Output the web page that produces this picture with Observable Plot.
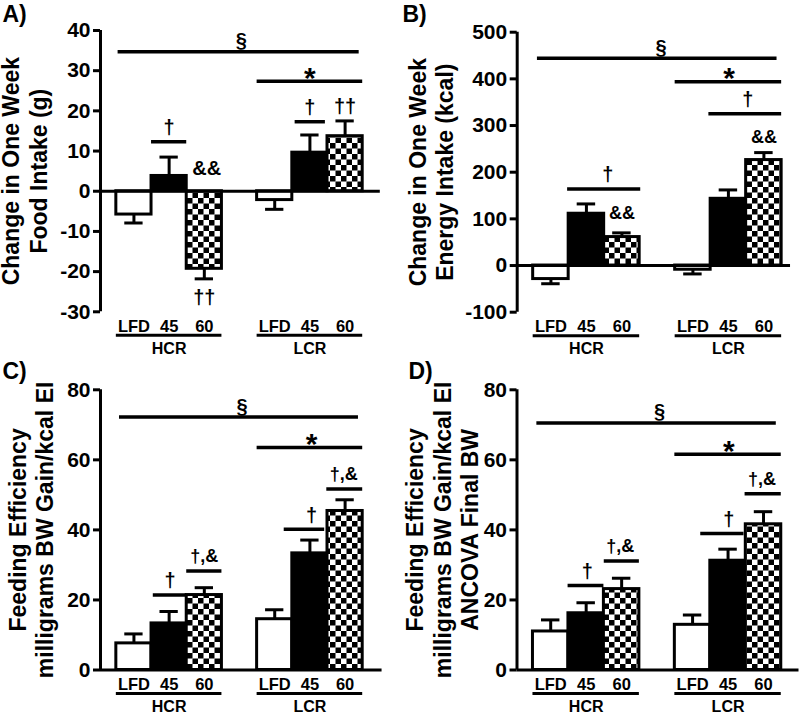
<!DOCTYPE html>
<html>
<head>
<meta charset="utf-8">
<script src="https://cdn.jsdelivr.net/npm/d3@7"></script>
<script src="https://cdn.jsdelivr.net/npm/@observablehq/plot@0.6"></script>
<style>
  html, body { margin: 0; padding: 0; background: white; }
  #grid { display: grid; grid-template-columns: 400px 400px; width: 800px; }
  #grid svg { display: block; }
</style>
</head>
<body>
<div id="grid"></div>
<script>
// ---------- data ----------
const groups = ["HCR", "LCR"];
const diets = ["LFD", "45", "60"];

// A) Change in one week food intake (g): mean and SEM, order HCR LFD/45/60, LCR LFD/45/60
const foodMean = [-5.8, 3.8, -19.3, -2.2, 9.6, 13.7];
const foodSem  = [2.1, 4.7, 2.5, 2.3, 4.4, 3.8];
// B) Change in one week energy intake (kcal)
const energyMean = [-29, 111, 61, -9, 143, 226];
const energySem  = [10, 21, 9, 9, 19, 16];
// C) Feeding efficiency (mg BW gain / kcal EI)
const feMean = [7.6, 13.3, 21.4, 14.5, 33.3, 45.4];
const feSem  = [2.7, 3.4, 2.1, 2.7, 3.8, 3.2];
// D) Feeding efficiency, ANCOVA final BW
const feAncMean = [11.0, 16.2, 23.1, 12.9, 31.2, 41.6];
const feAncSem  = [3.3, 3.0, 3.1, 2.8, 3.3, 3.6];

// tick labels
const ticksA = [-30, -20, -10, 0, 10, 20, 30, 40];
const ticksB = [-100, 0, 100, 200, 300, 400, 500];
const ticksFE = [0, 20, 40, 60, 80];

// significance bars: x1/x2/lx in bar-slot units (HCR slots 0..2, LCR slots 4..6)
const sigA = [
  {x1: -0.45, x2: 6.4, y: 34.7, label: "§", lx: 3.05},
  {x1: 3.5, x2: 6.5, y: 27.4, label: "*", lx: 5.0},
  {x1: 0.5, x2: 1.5, y: 12.3, label: "†", lx: 1.0},
  {x1: 4.58, x2: 5.44, y: 17.3, label: "†", lx: 5.0}
];
const markA = [
  {x: 6, y: 21, label: "††"},
  {x: 2.07, y: 5.7, label: "&&"},
  {x: 2, y: -26.4, label: "††"}
];
const sigB = [
  {x1: -0.38, x2: 6.37, y: 444, label: "§", lx: 3.1},
  {x1: 3.5, x2: 6.5, y: 394, label: "*", lx: 5.02},
  {x1: 4.45, x2: 6.5, y: 325, label: "†", lx: 5.55},
  {x1: 0.47, x2: 2.53, y: 164, label: "†", lx: 1.6}
];
const markB = [
  {x: 6, y: 275, label: "&&"},
  {x: 2, y: 111, label: "&&"}
];
const sigC = [
  {x1: -0.41, x2: 6.38, y: 72.2, label: "§", lx: 3.07},
  {x1: 3.5, x2: 6.5, y: 63.5, label: "*", lx: 5.05},
  {x1: 0.55, x2: 1.5, y: 21.4, label: "†", lx: 1.03},
  {x1: 1.5, x2: 2.5, y: 28.3, label: "†,&", lx: 2.0},
  {x1: 4.27, x2: 5.42, y: 40.2, label: "†", lx: 5.05},
  {x1: 5.48, x2: 6.5, y: 51.7, label: "†,&", lx: 5.96}
];
const markC = [];
const sigD = [
  {x1: -0.39, x2: 6.36, y: 70.5, label: "§", lx: 3.07},
  {x1: 3.5, x2: 6.5, y: 61.6, label: "*", lx: 5.02},
  {x1: 0.49, x2: 1.5, y: 24.1, label: "†", lx: 1.03},
  {x1: 1.51, x2: 2.5, y: 31.1, label: "†,&", lx: 1.96},
  {x1: 4.23, x2: 5.45, y: 39.0, label: "†", lx: 5.02},
  {x1: 5.48, x2: 6.5, y: 50.3, label: "†,&", lx: 5.96}
];
const markD = [];

// ---------- drawing ----------
const FONT = "'Liberation Sans', Arial, Helvetica, sans-serif";
const labelStyle = {
  "§": {size: 20, off: 11},
  "*": {size: 30, off: 3},
  "†": {size: 20, off: 14},
  "†,&": {size: 18, off: 15}
};

function panel(cfg) {
  const rows = [];
  groups.forEach((g, gi) => diets.forEach((d, di) => {
    const i = gi * 3 + di;
    const m = cfg.mean[i];
    rows.push({group: g, diet: d, slot: gi * 4 + di, mean: m, err: m + (m < 0 ? -1 : 1) * cfg.sem[i]});
  }));
  const [ymin, ymax] = cfg.yDomain;
  const xmin = -0.95, xmax = 7.0;
  const pid = "chk" + cfg.letter;
  const fills = {LFD: "white", "45": "black", "60": `url(#${pid})`};
  const groupSpans = groups.map((g, gi) => ({group: g, x1: gi * 4 - 0.5, x2: gi * 4 + 2.5, x: gi * 4 + 1}));

  const svg = Plot.plot({
    width: 400,
    height: cfg.height,
    marginLeft: cfg.ml,
    marginRight: cfg.mr,
    marginTop: cfg.mt,
    marginBottom: cfg.mb,
    x: {domain: [xmin, xmax], axis: null},
    y: {domain: [ymin, ymax], axis: null},
    style: {fontFamily: FONT, fontWeight: "bold", color: "black", background: "white", overflow: "visible"},
    marks: [
      // bars
      ...diets.map(d => Plot.rectY(rows.filter(r => r.diet === d), {
        x1: r => r.slot - 0.5, x2: r => r.slot + 0.5, y1: 0, y2: "mean",
        fill: fills[d], stroke: "black", strokeWidth: 3
      })),
      // error bars
      Plot.ruleX(rows, {x: "slot", y1: "mean", y2: "err", stroke: "black", strokeWidth: 3}),
      Plot.ruleY(rows, {y: "err", x1: r => r.slot - 0.26, x2: r => r.slot + 0.26, stroke: "black", strokeWidth: 3}),
      // x axis line at zero
      Plot.ruleY([0], {x1: xmin, x2: cfg.axisEnd, stroke: "black", strokeWidth: 3}),
      // y axis spine and ticks
      Plot.ruleX([xmin], {y1: ymin, y2: ymax, stroke: "black", strokeWidth: 3}),
      Plot.axisY(cfg.ticks, {
        anchor: "left", tickSize: 7, tickPadding: 3, strokeWidth: 3,
        fontSize: 21, fontWeight: "bold", tickFormat: d => String(d), label: null
      }),
      // significance bars
      Plot.ruleY(cfg.sig, {y: "y", x1: "x1", x2: "x2", stroke: "black", strokeWidth: 3.5}),
      ...Object.keys(labelStyle).map(k => Plot.text(cfg.sig.filter(s => s.label === k), {
        x: "lx", y: "y", text: "label", dy: -labelStyle[k].off,
        fontSize: labelStyle[k].size, fontWeight: "bold"
      })),
      Plot.text(cfg.marks, {x: "x", y: "y", text: "label", fontSize: cfg.markSize, fontWeight: "bold"}),
      // category labels below the axis
      Plot.text(rows, {x: "slot", y: () => ymin, text: "diet", dy: 15, fontSize: 16.5, fontWeight: "bold"}),
      Plot.ruleY(groupSpans, {y: () => ymin, x1: "x1", x2: "x2", dy: 23.5, stroke: "black", strokeWidth: 3}),
      Plot.text(groupSpans, {x: "x", y: () => ymin, text: "group", dy: 37, fontSize: 16, fontWeight: "bold"}),
      // y axis title
      Plot.text([cfg.yTitle], {
        text: d => d, frameAnchor: "left", textAnchor: "middle", dx: cfg.titleDx, rotate: -90,
        lineAnchor: "middle", lineHeight: 1.2, fontSize: 23, fontWeight: "bold"
      }),
      // panel letter
      Plot.text([cfg.letter + ")"], {
        text: d => d, frameAnchor: "top-left", dx: cfg.letterX - cfg.ml, dy: cfg.letterY - cfg.mt,
        textAnchor: "start", lineAnchor: "middle", fontSize: 23, fontWeight: "bold"
      })
    ]
  });

  // checkerboard pattern for the 60% fat diet bars
  const defs = d3.select(svg).insert("defs", ":first-child");
  const p = defs.append("pattern").attr("id", pid).attr("patternUnits", "userSpaceOnUse")
    .attr("width", 11).attr("height", 11);
  p.append("rect").attr("width", 11).attr("height", 11).attr("fill", "white");
  p.append("rect").attr("width", 5.5).attr("height", 5.5).attr("fill", "black");
  p.append("rect").attr("x", 5.5).attr("y", 5.5).attr("width", 5.5).attr("height", 5.5).attr("fill", "black");
  return svg;
}

const grid = document.getElementById("grid");
grid.append(panel({
  letter: "A", mean: foodMean, sem: foodSem, yDomain: [-30, 40], ticks: ticksA,
  sig: sigA, marks: markA, markSize: 20,
  yTitle: "Change in One Week\nFood Intake (g)",
  height: 356, ml: 100, mr: 20.2, mt: 30, mb: 44.7, axisEnd: 7.0,
  titleDx: -76.5, letterX: 2, letterY: 14
}));
grid.append(panel({
  letter: "B", mean: energyMean, sem: energySem, yDomain: [-100, 500], ticks: ticksB,
  sig: sigB, marks: markB, markSize: 18,
  yTitle: "Change in One Week\nEnergy Intake (kcal)",
  height: 356, ml: 116.7, mr: 1.1, mt: 31.7, mb: 44.3, axisEnd: 6.75,
  titleDx: -86.7, letterX: 2, letterY: 14
}));
grid.append(panel({
  letter: "C", mean: feMean, sem: feSem, yDomain: [0, 80], ticks: ticksFE,
  sig: sigC, marks: markC, markSize: 18,
  yTitle: "Feeding Efficiency\nmilligrams BW Gain/kcal EI",
  height: 357, ml: 100, mr: 20.2, mt: 33.3, mb: 43.5, axisEnd: 7.05,
  titleDx: -70, letterX: 2, letterY: 15
}));
grid.append(panel({
  letter: "D", mean: feAncMean, sem: feAncSem, yDomain: [0, 80], ticks: ticksFE,
  sig: sigD, marks: markD, markSize: 18,
  yTitle: "Feeding Efficiency\nmilligrams BW Gain/kcal EI\nANCOVA Final BW",
  height: 357, ml: 116.5, mr: 1.5, mt: 33.3, mb: 43.5, axisEnd: 7.0,
  titleDx: -75, letterX: 8, letterY: 15
}));
</script>
</body>
</html>
